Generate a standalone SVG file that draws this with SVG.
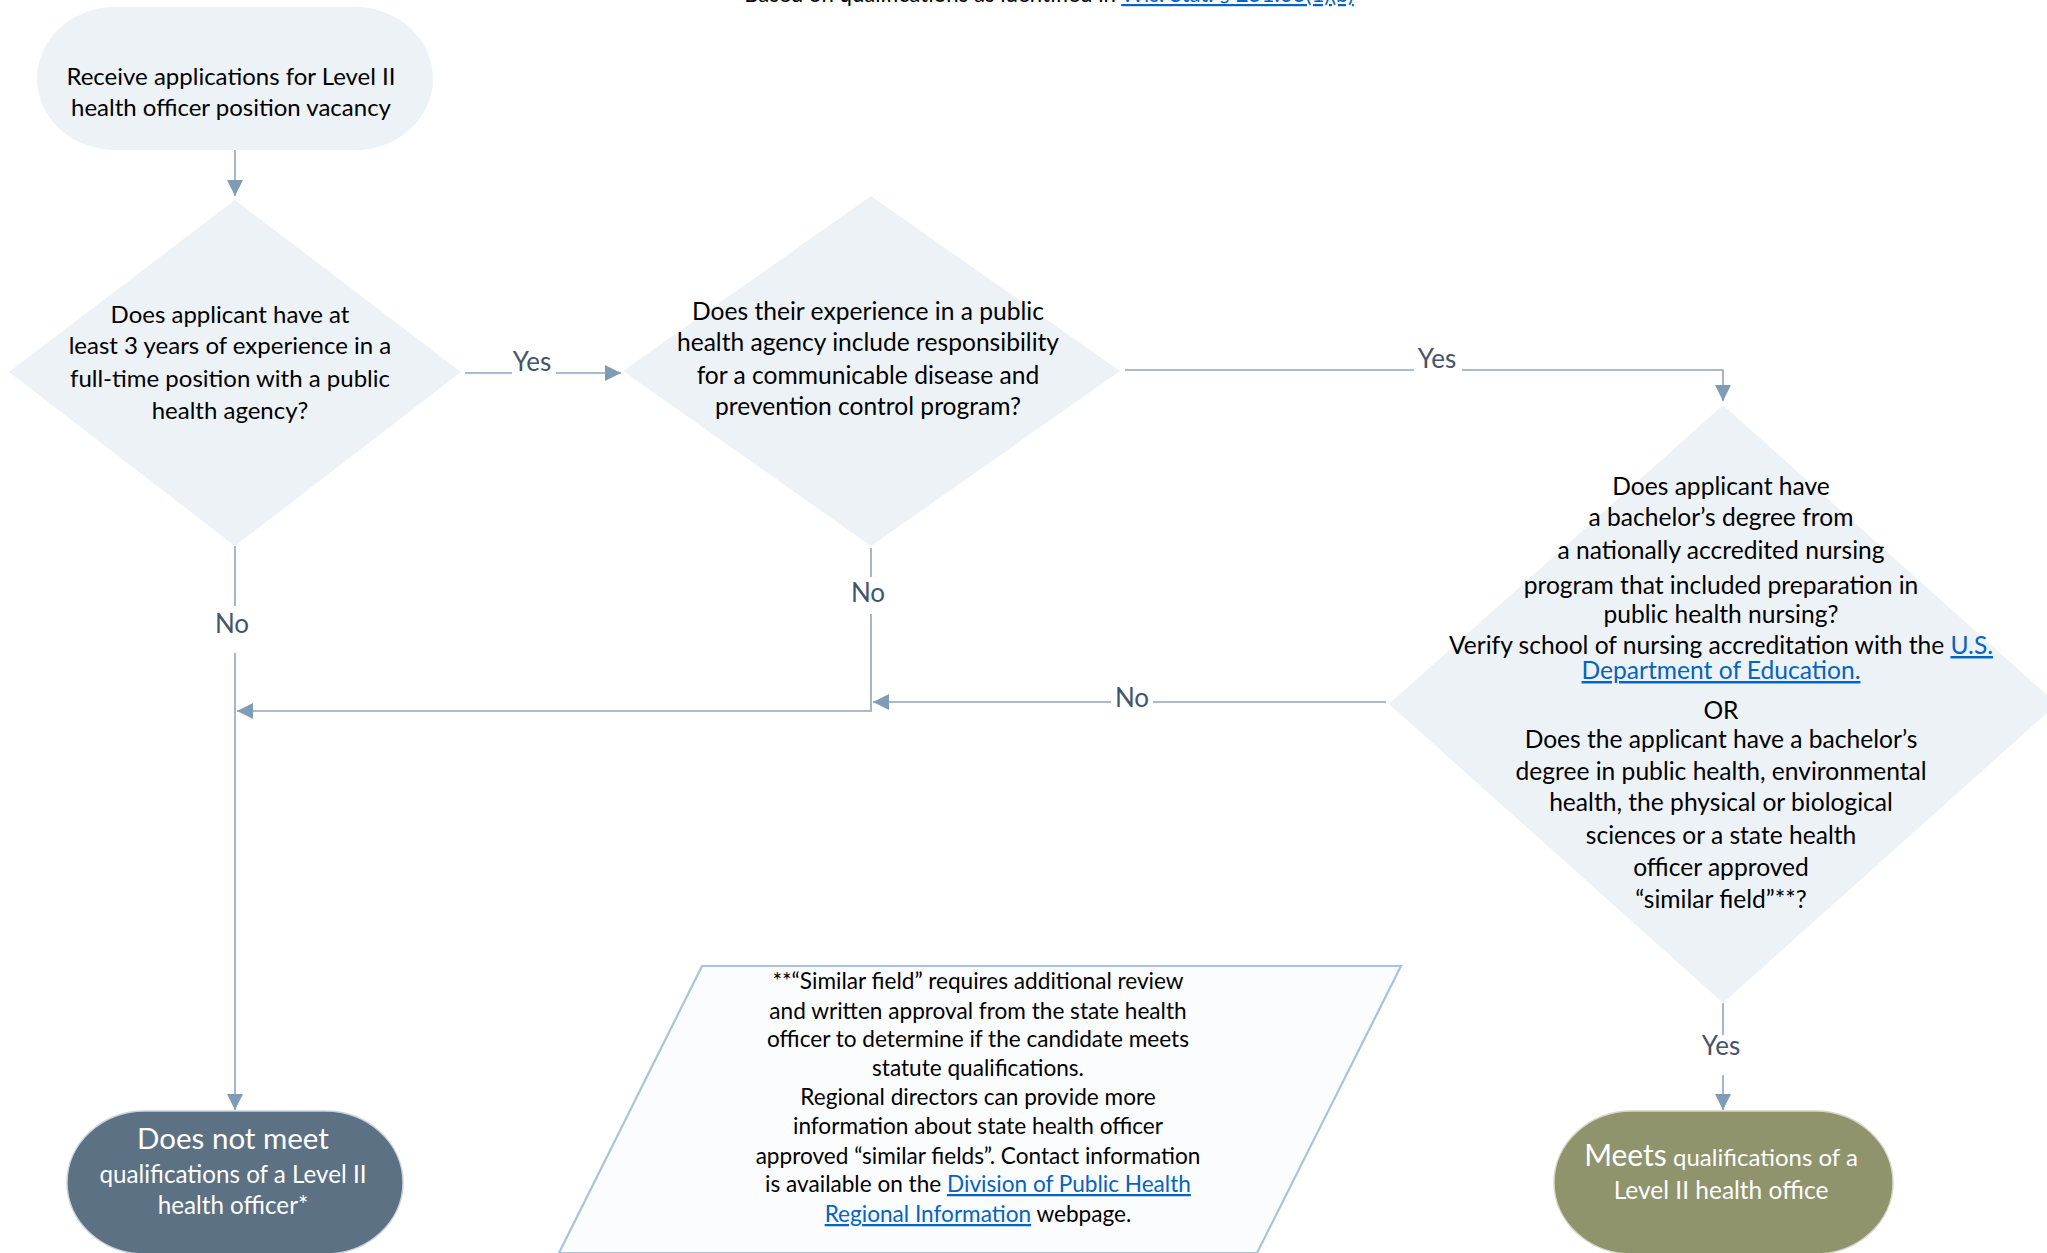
<svg xmlns="http://www.w3.org/2000/svg" width="2047" height="1253" viewBox="0 0 2047 1253">
<style>
.t{font-family:Lato,"Liberation Sans",sans-serif;fill:#000;text-anchor:middle}
.d{font-size:24px}
.d3{font-size:24.6px}
.p{font-size:22.6px}
.lbl{font-family:Lato,"Liberation Sans",sans-serif;font-size:26px;fill:#44546A;text-anchor:middle}
.lnk{fill:#0563C1;text-decoration:underline}
.w{fill:#fff}
.c{stroke:#8CA5BD;stroke-width:1.6;fill:none}
.shape{fill:#EDF2F7}
</style>
<defs>
<marker id="ah" viewBox="0 0 10 10" refX="10" refY="5" markerWidth="16" markerHeight="16" markerUnits="userSpaceOnUse" orient="auto">
<path d="M0,0 L10,5 L0,10 z" fill="#7F9CB7"/>
</marker>
</defs>

<text class="t" x="1049" y="2" style="font-size:22.2px">Based on qualifications as identified in <tspan class="lnk">Wis. Stat. § 251.06(1)(b)</tspan></text>

<g id="connectors">
<path class="c" d="M235,150 L235,196" marker-end="url(#ah)"/>
<path class="c" d="M465,373 L512,373"/>
<path class="c" d="M556,373 L621,373" marker-end="url(#ah)"/>
<path class="c" d="M1125,370 L1414,370"/>
<path class="c" d="M1462,370 L1723,370 L1723,401" marker-end="url(#ah)"/>
<path class="c" d="M235,546 L235,606"/>
<path class="c" d="M235,653 L235,1110" marker-end="url(#ah)"/>
<path class="c" d="M871,548 L871,577"/>
<path class="c" d="M871,614 L871,711 L237,711" marker-end="url(#ah)"/>
<path class="c" d="M1386,702 L1153,702"/>
<path class="c" d="M1111,702 L873,702" marker-end="url(#ah)"/>
<path class="c" d="M1723,1003 L1723,1035"/>
<path class="c" d="M1723,1075 L1723,1110" marker-end="url(#ah)"/>
<text class="lbl" x="532" y="371">Yes</text>
<text class="lbl" x="1437" y="368">Yes</text>
<text class="lbl" x="232" y="633">No</text>
<text class="lbl" x="868" y="602">No</text>
<text class="lbl" x="1132" y="707">No</text>
<text class="lbl" x="1721" y="1055">Yes</text>
</g>

<g id="start">
<rect class="shape" x="37" y="7" width="396" height="143" rx="78" ry="72"/>
<text class="t d" x="231" y="85">Receive applications for Level II</text>
<text class="t d" x="231" y="116">health officer position vacancy</text>
</g>

<g id="q1">
<polygon class="shape" points="235,200 461,372 235,546 9,372"/>
<text class="t d" x="230" y="323">Does applicant have at</text>
<text class="t d" x="230" y="354">least 3 years of experience in a</text>
<text class="t d" x="230" y="387">full-time position with a public</text>
<text class="t d" x="230" y="419">health agency?</text>
</g>

<g id="q2">
<polygon class="shape" points="871,196 1120,371 871,546 623,371"/>
<text class="t d3" x="868" y="320">Does their experience in a public</text>
<text class="t d3" x="868" y="351">health agency include responsibility</text>
<text class="t d3" x="868" y="384">for a communicable disease and</text>
<text class="t d3" x="868" y="415">prevention control program?</text>
</g>

<g id="q3">
<polygon class="shape" points="1723,405 2057,704 1723,1003 1389,704"/>
<text class="t d3" x="1721" y="495">Does applicant have</text>
<text class="t d3" x="1721" y="526">a bachelor’s degree from</text>
<text class="t d3" x="1721" y="559">a nationally accredited nursing</text>
<text class="t d3" x="1721" y="594">program that included preparation in</text>
<text class="t d3" x="1721" y="623">public health nursing?</text>
<text class="t d3" x="1721" y="654">Verify school of nursing accreditation with the <tspan class="lnk">U.S.</tspan></text>
<text class="t d3 lnk" x="1721" y="679">Department of Education.</text>
<text class="t d3" x="1721" y="719">OR</text>
<text class="t d3" x="1721" y="748">Does the applicant have a bachelor’s</text>
<text class="t d3" x="1721" y="780">degree in public health, environmental</text>
<text class="t d3" x="1721" y="811">health, the physical or biological</text>
<text class="t d3" x="1721" y="844">sciences or a state health</text>
<text class="t d3" x="1721" y="876">officer approved</text>
<text class="t d3" x="1721" y="908">“similar field”**?</text>
</g>

<g id="note">
<polygon points="702,966 1401,966 1257,1253 559,1253" fill="#FBFCFD" stroke="#A9C3DD" stroke-width="2.2"/>
<text class="t p" x="978" y="989">**“Similar field” requires additional review</text>
<text class="t p" x="978" y="1019">and written approval from the state health</text>
<text class="t p" x="978" y="1047">officer to determine if the candidate meets</text>
<text class="t p" x="978" y="1076">statute qualifications.</text>
<text class="t p" x="978" y="1105">Regional directors can provide more</text>
<text class="t p" x="978" y="1134">information about state health officer</text>
<text class="t p" x="978" y="1164">approved “similar fields”. Contact information</text>
<text class="t p" x="978" y="1192">is available on the <tspan class="lnk">Division of Public Health</tspan></text>
<text class="t p" x="978" y="1222"><tspan class="lnk">Regional Information</tspan> webpage.</text>
</g>

<g id="end-no">
<rect x="67" y="1111" width="336" height="143" rx="78" ry="72" fill="#5D7185" stroke="#C9D2DB" stroke-width="1.5"/>
<text class="t w" x="233" y="1149" style="font-size:29.5px">Does not meet</text>
<text class="t w" x="233" y="1183" style="font-size:24.2px">qualifications of a Level II</text>
<text class="t w" x="233" y="1214" style="font-size:24.2px">health officer*</text>
</g>

<g id="end-yes">
<rect x="1554" y="1111" width="339" height="143" rx="78" ry="72" fill="#8F946D" stroke="#D4D6C4" stroke-width="1.5"/>
<text class="t w" x="1721" y="1166" style="font-size:24px"><tspan style="font-size:30px">Meets</tspan> qualifications of a</text>
<text class="t w" x="1721" y="1199" style="font-size:24.5px">Level II health office</text>
</g>
</svg>
